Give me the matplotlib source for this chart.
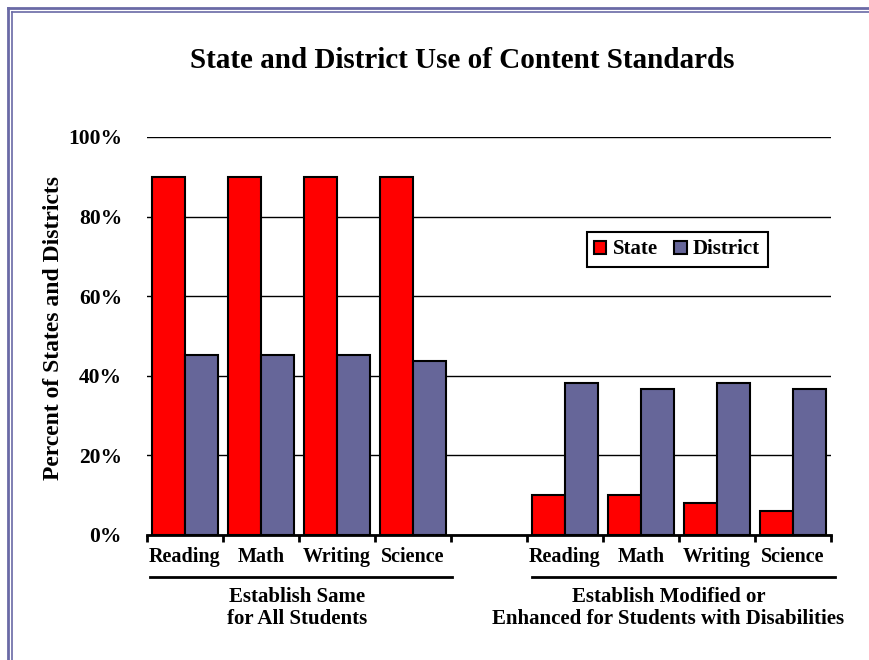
"""
State and District Use of Content Standards - grouped bar chart.
"""
import numpy as np
import matplotlib
matplotlib.use("Agg")
import matplotlib.pyplot as plt
from matplotlib.lines import Line2D

SUBJECTS       = ["Reading", "Math", "Writing", "Science"]
STATE_SAME     = [90, 90, 90, 90]
DISTRICT_SAME  = [45.2, 45.2, 45.3, 43.8]
STATE_MOD      = [10, 10, 8, 6]
DISTRICT_MOD   = [38.3, 36.7, 38.3, 36.7]
GROUP_LABELS   = ["Establish Same\nfor All Students",
                  "Establish Modified or\nEnhanced for Students with Disabilities"]
Y_TICKS        = [0, 20, 40, 60, 80, 100]
TITLE          = "State and District Use of Content Standards"
Y_LABEL        = "Percent of States and Districts"

RED    = "#ff0000"
BLUE   = "#666699"
FRAME  = "#6a6aa6"
FONT   = "Liberation Serif"
BAR_W  = 0.434

plt.rcParams["font.family"] = FONT
plt.rcParams["font.weight"] = "bold"

W, H = 869, 660
fig = plt.figure(figsize=(W / 100, H / 100), dpi=100)
fig.patch.set_facecolor("white")

# axes placed in pixel terms
ax = fig.add_axes([147 / W, (H - 535) / H, 684 / W, 398 / H])

x_same = np.arange(len(SUBJECTS))
x_mod  = np.arange(len(SUBJECTS)) + len(SUBJECTS) + 1

handles = []
for xs, st, di in [(x_same, STATE_SAME, DISTRICT_SAME), (x_mod, STATE_MOD, DISTRICT_MOD)]:
    b1 = ax.bar(xs - BAR_W / 2, st, BAR_W, color=RED, edgecolor="black", linewidth=1.5, zorder=3)
    b2 = ax.bar(xs + BAR_W / 2, di, BAR_W, color=BLUE, edgecolor="black", linewidth=1.5, zorder=3)
    handles = [b1, b2]

n_cat = 2 * len(SUBJECTS) + 1
ax.set_xlim(-0.5, n_cat - 0.5)
ax.set_ylim(0, 100)

ax.set_yticks(Y_TICKS)
ax.set_yticklabels([str(v) + "%" for v in Y_TICKS], fontsize=15.5, fontweight="bold")
ax.tick_params(axis="y", length=0, pad=18)
ax.yaxis.grid(True, color="black", linewidth=1.0, zorder=0)
ax.set_axisbelow(True)

ax.set_xticks(np.arange(-0.5, n_cat, 1.0))
ax.set_xticklabels([])
ax.tick_params(axis="x", length=5, width=2, direction="out", color="black")

for side in ["top", "right", "left"]:
    ax.spines[side].set_visible(False)
ax.spines["bottom"].set_linewidth(2)

# category labels
trans = ax.get_xaxis_transform()
for xs in (x_same, x_mod):
    for x, name in zip(xs, SUBJECTS):
        ax.text(x, -0.055, name, transform=trans, ha="center", va="center",
                fontsize=14.5, fontweight="bold")

# group underlines and labels
ax.plot([-0.46, 3.51], [-0.106, -0.106], transform=trans, color="black",
        linewidth=2, clip_on=False)
ax.plot([4.57, 8.55], [-0.106, -0.106], transform=trans, color="black",
        linewidth=2, clip_on=False)
ax.text(1.48, -0.183, GROUP_LABELS[0], transform=trans, ha="center", va="center",
        fontsize=15, fontweight="bold", linespacing=1.15)
ax.text(6.36, -0.183, GROUP_LABELS[1], transform=trans, ha="center", va="center",
        fontsize=15, fontweight="bold", linespacing=1.15)

leg = ax.legend(handles, ["State", "District"], loc="center",
                bbox_to_anchor=(677 / W, 1 - 249.5 / H),
                bbox_transform=fig.transFigure, ncol=2, frameon=True, fancybox=False,
                edgecolor="black", framealpha=1, handlelength=0.6, handleheight=0.6,
                handletextpad=0.3, columnspacing=0.8, borderpad=0.35,
                prop={"family": FONT, "weight": "bold", "size": 15})
leg.get_frame().set_linewidth(1.5)

fig.text(462.5 / W, 1 - 68 / H, TITLE, ha="center", va="baseline",
         fontsize=21, fontweight="bold")
fig.text(54 / W, 1 - 328 / H, Y_LABEL, ha="center", va="center", rotation=90,
         fontsize=17, fontweight="bold")

# double frame at top / left edges
for off, lw in [(8, 2.0), (12, 1.2)]:
    fig.add_artist(Line2D([off / W, off / W], [0, 1 - off / H], color=FRAME, linewidth=lw))
    fig.add_artist(Line2D([off / W, 1], [1 - off / H, 1 - off / H], color=FRAME, linewidth=lw))

fig.savefig("out.png", dpi=100)
